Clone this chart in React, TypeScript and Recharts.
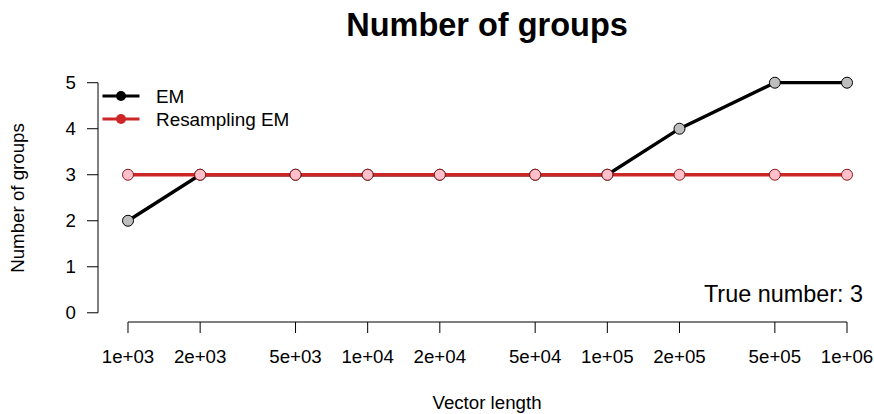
import React from "react";
import {
  ComposedChart,
  Line,
  XAxis,
  YAxis,
  ReferenceLine,
  Customized,
} from "recharts";

const vectorLengths = [1e3, 2e3, 5e3, 1e4, 2e4, 5e4, 1e5, 2e5, 5e5, 1e6];
const emValues = [2, 3, 3, 3, 3, 3, 3, 4, 5, 5];
const resamplingEmValues = [3, 3, 3, 3, 3, 3, 3, 3, 3, 3];
const xTickLabels = [
  "1e+03",
  "2e+03",
  "5e+03",
  "1e+04",
  "2e+04",
  "5e+04",
  "1e+05",
  "2e+05",
  "5e+05",
  "1e+06",
];
const yTicks = [0, 1, 2, 3, 4, 5];
const seriesNames = ["EM", "Resampling EM"];
const title = "Number of groups";
const xTitle = "Vector length";
const yTitle = "Number of groups";
const annotation = "True number: 3";

const data = vectorLengths.map((x, i) => ({
  x,
  em: emValues[i],
  rs: resamplingEmValues[i],
}));

const FONT = '"Liberation Sans", Arial, Helvetica, sans-serif';
const X_MIN = Math.pow(10, 2.87483);
const X_MAX = Math.pow(10, 6.11265);
const Y_MIN = -0.2;
const Y_MAX = 5.2;

const legendItems = [
  { name: seriesNames[0], color: "#000000" },
  { name: seriesNames[1], color: "#CD2626" },
];

const Overlay = () => (
  <g style={{ fontFamily: FONT }}>
    <text x={487} y={36} textAnchor="middle" fontSize={32.5} fontWeight="bold" fill="#000">
      {title}
    </text>
    <text x={487} y={409} textAnchor="middle" fontSize={18.7} fill="#000">
      {xTitle}
    </text>
    <text
      x={23.5}
      y={198}
      textAnchor="middle"
      fontSize={18.7}
      fill="#000"
      transform="rotate(-90, 23.5, 198)"
    >
      {yTitle}
    </text>
    <text x={863} y={301.7} textAnchor="end" fontSize={23.4} fill="#000">
      {annotation}
    </text>
    {legendItems.map((it, i) => (
      <g key={it.name}>
        <line
          x1={102.5}
          x2={139.5}
          y1={96 + i * 23}
          y2={96 + i * 23}
          stroke={it.color}
          strokeWidth={3.2}
        />
        <circle cx={121} cy={96 + i * 23} r={5} fill={it.color} />
        <text
          x={156}
          y={96 + i * 23}
          dominantBaseline="central"
          fontSize={18.9}
          fill="#000"
        >
          {it.name}
        </text>
      </g>
    ))}
  </g>
);

export default function App() {
  return (
    <div style={{ position: "absolute", left: 0, top: 0, background: "#fff" }}>
      <ComposedChart
        width={874}
        height={414}
        data={data}
        margin={{ top: 73.5, right: 0, bottom: 0, left: 0 }}
      >
        <XAxis
          dataKey="x"
          type="number"
          scale="log"
          domain={[X_MIN, X_MAX]}
          allowDataOverflow
          ticks={vectorLengths}
          tickFormatter={(v: number) => xTickLabels[vectorLengths.indexOf(v)] ?? ""}
          axisLine={false}
          tickLine={{ stroke: "#000", strokeWidth: 1 }}
          tickSize={11}
          tickMargin={17}
          height={92}
          interval={0}
          tick={{ fill: "#000", fontSize: 18.7, fontFamily: FONT }}
        />
        <YAxis
          type="number"
          domain={[Y_MIN, Y_MAX]}
          allowDataOverflow
          ticks={yTicks}
          axisLine={false}
          tickLine={{ stroke: "#000", strokeWidth: 1 }}
          tickSize={11}
          tickMargin={11}
          width={98}
          interval={0}
          tick={{ fill: "#000", fontSize: 18.7, fontFamily: FONT }}
        />
        <ReferenceLine
          segment={[
            { x: vectorLengths[0], y: Y_MIN },
            { x: vectorLengths[vectorLengths.length - 1], y: Y_MIN },
          ]}
          stroke="#000"
          strokeWidth={1}
          ifOverflow="visible"
        />
        <ReferenceLine
          segment={[
            { x: X_MIN, y: yTicks[0] },
            { x: X_MIN, y: yTicks[yTicks.length - 1] },
          ]}
          stroke="#000"
          strokeWidth={1}
          ifOverflow="visible"
        />
        <Line
          dataKey="em"
          name={seriesNames[0]}
          stroke="#000000"
          strokeWidth={3.3}
          isAnimationActive={false}
          dot={{ r: 5.5, fill: "#BEBEBE", stroke: "#000", strokeWidth: 1 }}
          activeDot={false}
        />
        <Line
          dataKey="rs"
          name={seriesNames[1]}
          stroke="#CD2626"
          strokeWidth={3.3}
          isAnimationActive={false}
          dot={{ r: 5.5, fill: "#FFC0CB", stroke: "#8B1A1A", strokeWidth: 1 }}
          activeDot={false}
        />
        <Customized component={Overlay} />
      </ComposedChart>
    </div>
  );
}
